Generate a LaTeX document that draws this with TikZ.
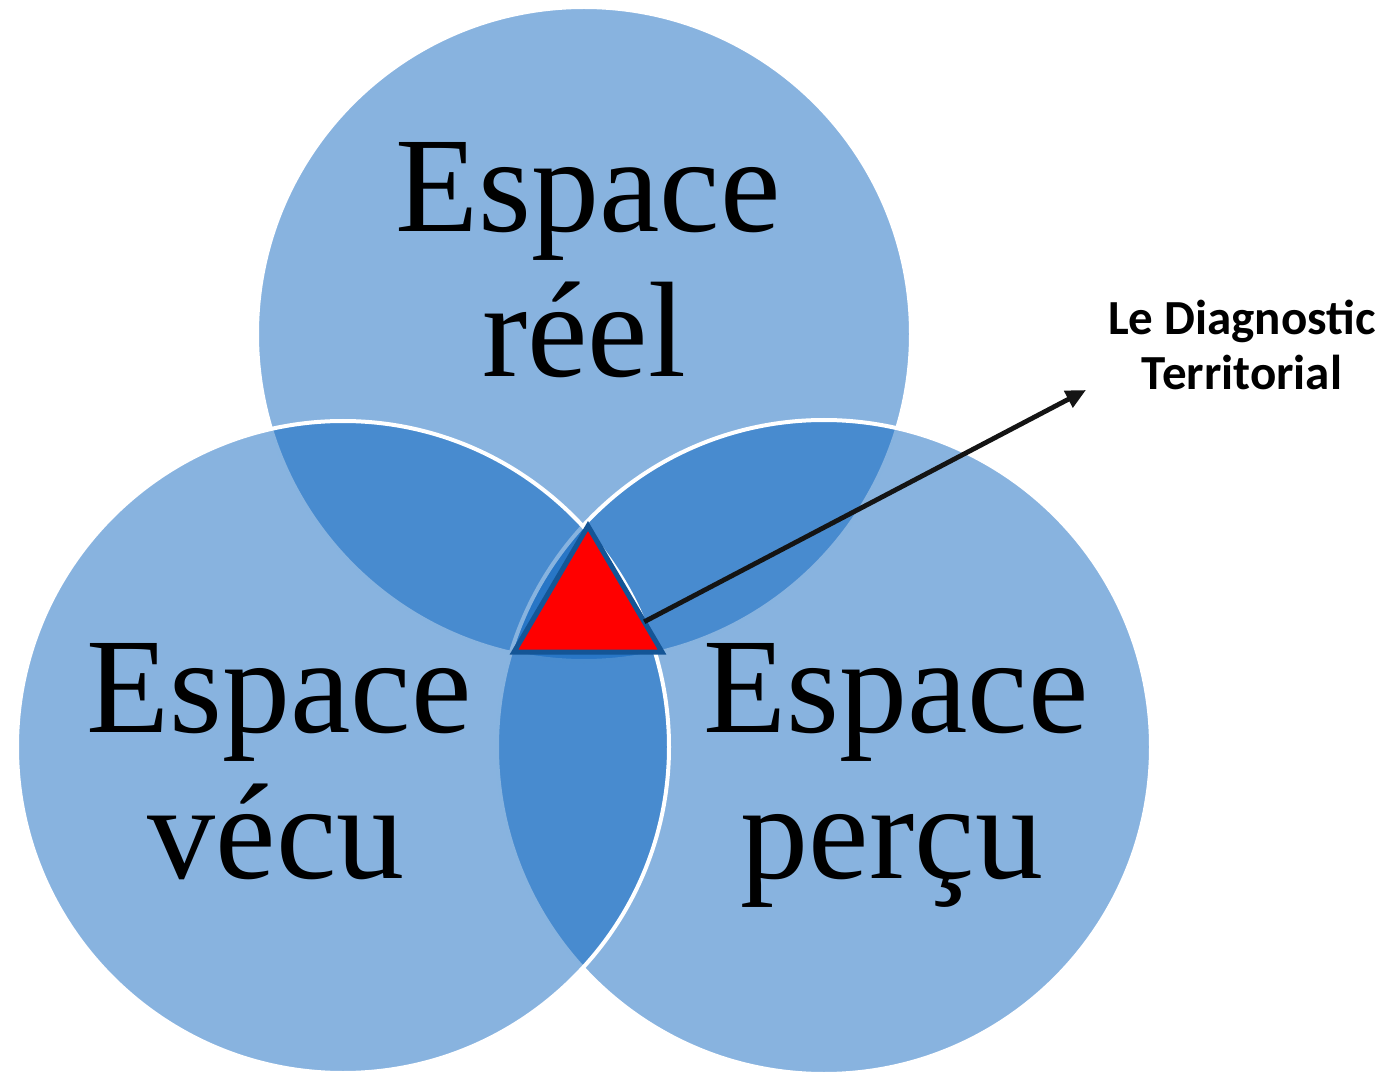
\documentclass[tikz,border=0pt]{standalone}
\usepackage{fontspec}
\setmainfont{Liberation Serif}
\newfontfamily\labelfont{Carlito}
\usepackage{xcolor}
\usepackage{tikz}
\usetikzlibrary{arrows.meta, positioning, calc}
\definecolor{vennblue}{RGB}{2,94,188}
\definecolor{triborder}{RGB}{20,85,150}
\tikzset{
  disc/.style={fill=vennblue, fill opacity=0.47, draw=white, line width=2pt},
  espace/.style={anchor=base, inner sep=0pt, font=\fontsize{68}{72}\selectfont},
  diag/.style={anchor=base, inner sep=0pt, font=\labelfont\bfseries\fontsize{24.5}{27.5}\selectfont},
  tri/.style={fill=red, draw=triborder, line width=2.5pt, line join=miter},
  arrow/.style={line width=2.4pt, draw=black!92, -{Triangle[length=10pt, width=9pt]}}
}
\begin{document}
\begin{tikzpicture}[x=0.5pt, y=-0.5pt]
\useasboundingbox (0,0) rectangle (1383,1075);
% Circles: reel, percu, vecu
\draw[disc] (584,334) circle[radius=327];
\draw[disc] (824,747) circle[radius=327];
\draw[disc] (343,747) circle[radius=326];

% Labels inside the circles
\node[espace] (reelA) at (588,232) {Espace};
\node[espace] (reelB) at (584,377) {réel};
\node[espace] (vecuA) at (279,732) {Espace};
\node[espace] (vecuB) at (276,878) {vécu};
\node[espace] (percuA) at (896,732) {Espace};
\node[espace] (percuB) at (892,878) {perçu};

% Triangle at the common intersection
\coordinate (apex) at (588,526);
\coordinate (bl) at (514,652);
\coordinate (br) at (662,652);
\draw[tri] (apex) -- (bl) -- (br) -- cycle;

% Diagnostic label and arrow
\node[diag] (diagA) at (1242,335) {Le Diagnostic};
\node[diag] (diagB) at (1242,390) {Territorial};
\coordinate (tip) at (1086,390);
\draw[arrow] ($(apex)!0.76!(br)$) -- (tip);
\end{tikzpicture}
\end{document}
